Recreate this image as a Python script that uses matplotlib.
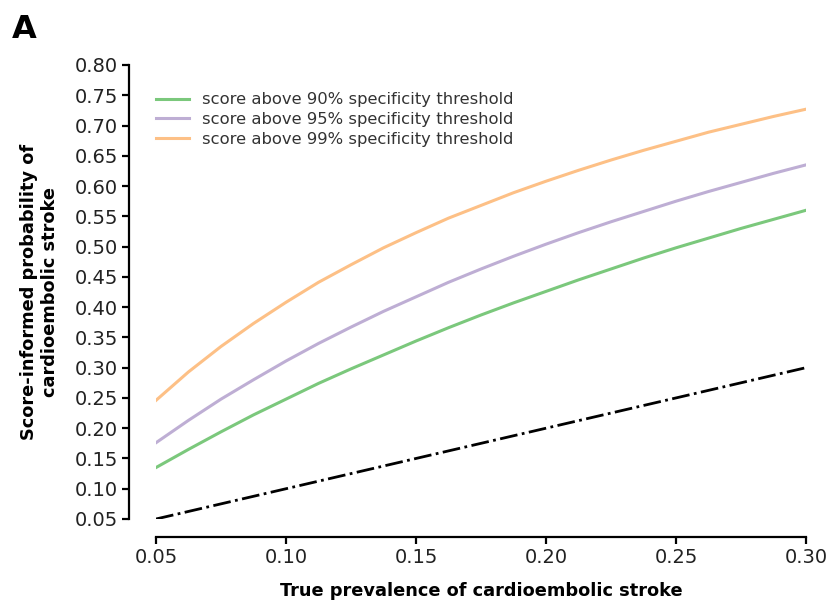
import matplotlib
matplotlib.use('Agg')
import matplotlib.pyplot as plt

# values
prevalence = [0.05, 0.0625, 0.075, 0.0875, 0.10, 0.1125, 0.125, 0.1375, 0.15, 0.1625, 0.175,
              0.1875, 0.20, 0.2125, 0.225, 0.2375, 0.25, 0.2625, 0.275, 0.2875, 0.30]
spec_90 = [0.135, 0.165, 0.194, 0.222, 0.248, 0.274, 0.298, 0.321, 0.344, 0.366, 0.387,
           0.407, 0.426, 0.445, 0.463, 0.481, 0.498, 0.514, 0.530, 0.545, 0.560]
spec_95 = [0.176, 0.213, 0.248, 0.280, 0.311, 0.340, 0.367, 0.393, 0.417, 0.441, 0.463,
           0.484, 0.504, 0.523, 0.541, 0.558, 0.575, 0.591, 0.606, 0.621, 0.635]
spec_99 = [0.246, 0.293, 0.335, 0.373, 0.408, 0.441, 0.470, 0.498, 0.523, 0.547, 0.568,
           0.589, 0.608, 0.626, 0.643, 0.659, 0.674, 0.689, 0.702, 0.715, 0.727]
baseline_x = [0.05, 0.30]
baseline = [0.05, 0.30]

labels = ['score above 90% specificity threshold',
          'score above 95% specificity threshold',
          'score above 99% specificity threshold']
colors = ['#7bc87c', '#beaed4', '#fdc086']
x_ticks = [0.05, 0.10, 0.15, 0.20, 0.25, 0.30]
y_ticks = [0.05, 0.10, 0.15, 0.20, 0.25, 0.30, 0.35, 0.40, 0.45, 0.50,
           0.55, 0.60, 0.65, 0.70, 0.75, 0.80]

figure = plt.figure(figsize=(8.32, 6.05), dpi=100)
axes = figure.add_axes([156 / 832, 1 - 519 / 605, 650 / 832, 454 / 605])

for series, label, color in zip([spec_90, spec_95, spec_99], labels, colors):
    axes.plot(prevalence, series, color=color, linewidth=2.2, label=label)
axes.plot(baseline_x, baseline, color='black', linewidth=2.0, linestyle='-.')

axes.set_xlim(0.05, 0.30)
axes.set_ylim(0.05, 0.80)
axes.set_xticks(x_ticks)
axes.set_xticklabels(['%.2f' % t for t in x_ticks])
axes.set_yticks(y_ticks)
axes.set_yticklabels(['%.2f' % t for t in y_ticks])

# despine with offset and trim, the seaborn way
for side in ('top', 'right'):
    axes.spines[side].set_visible(False)
axes.spines['left'].set_position(('outward', 19.5))
axes.spines['bottom'].set_position(('outward', 13))
axes.spines['left'].set_bounds(0.05, 0.80)
axes.spines['bottom'].set_bounds(0.05, 0.30)
for side in ('left', 'bottom'):
    axes.spines[side].set_linewidth(1.6)
axes.tick_params(axis='both', width=1.6, length=5, colors='black', labelsize=14,
                 labelcolor='#222222', pad=3)

axes.set_xlabel('True prevalence of cardioembolic stroke', fontsize=12.8,
                fontweight='bold', labelpad=11)
axes.set_ylabel('Score-informed probability of\ncardioembolic stroke', fontsize=12.8,
                fontweight='bold', labelpad=11)

axes.legend(loc='upper left', bbox_to_anchor=(-0.022, 0.972), frameon=False,
            fontsize=11.8, handlelength=2.0, handletextpad=0.8,
            labelspacing=0.28, labelcolor='#333333')

figure.text(12 / 832, 1 - 38 / 605, 'A', fontsize=23, fontweight='bold')

figure.savefig('out.png', dpi=100)
